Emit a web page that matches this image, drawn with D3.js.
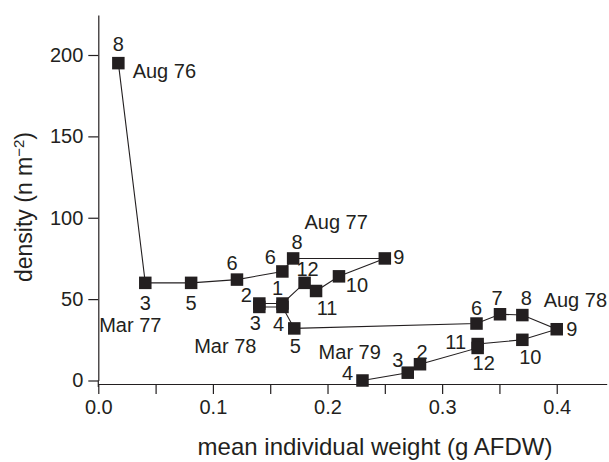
<!DOCTYPE html>
<html lang="en">
<head>
<meta charset="UTF-8">
<title>density vs mean individual weight</title>
<script src="https://d3js.org/d3.v7.min.js"></script>
<style>
    body { margin: 0; background: #fff; }
    svg text { font-family: "Liberation Sans", Arial, Helvetica, sans-serif; fill: #231f20; }
    .axis path, .axis line { stroke: #231f20; stroke-width: 1.2; }
    .axis text { font-size: 20px; }
</style>
</head>
<body>
<div id="chart"></div>
<script>
    // sampling sequence, Aug 76 -> Apr 79
    const months  = ["8", "3", "5", "6", "6", "8", "9", "10", "11", "12", "1", "2", "3", "4", "5",
                     "6", "7", "8", "9", "10", "11", "12", "2", "3", "4"];
    const weights = [0.0175, 0.041, 0.081, 0.121, 0.1606, 0.170, 0.250, 0.210, 0.190, 0.180, 0.1607, 0.1405, 0.1405, 0.1607, 0.171,
                     0.330, 0.3505, 0.370, 0.400, 0.370, 0.331, 0.331, 0.2807, 0.270, 0.2305];
    const density = [195, 60, 60, 62, 67, 75, 75, 64, 55, 60, 47.3, 47.3, 45.2, 45.2, 32,
                     35, 40.7, 40.2, 31.5, 25, 22.4, 20, 10, 4.8, 0];
    const dateLabels = ["Aug 76", "Mar 77", "Aug 77", "Mar 78", "Aug 78", "Mar 79"];
    const datePoints = [0, 1, 5, 12, 17, 23];
    const xTicks = [0, 0.05, 0.1, 0.15, 0.2, 0.25, 0.3, 0.35, 0.4];
    const yTicks = [0, 50, 100, 150, 200];

    // label placement (px from marker centre)
    const monthOffsets = [[0, -19], [0, 20], [0, 20], [-5, -17], [-12, -14], [4, -16], [14, -1], [18, 9], [11, 17], [3, -14],
                          [-5, -16], [-13, -9], [-4, 16], [-4, 17], [1, 18],
                          [0, -16], [-3, -16], [4, -17], [15, 0], [8, 17], [-22, -2], [6, 15], [2, -12], [-10, -13], [-15, -8]];
    const dateOffsets = [[46, 8], [-15, 42], [43, -36], [-34, 39], [53, -15], [-58, -21]];

    const W = 609, H = 462;
    const x = d3.scaleLinear().domain([0, 0.4436]).range([98.3, 606.7]);
    const y = d3.scaleLinear().domain([0, 200]).range([380.5, 55]);
    const xAxisY = 384;

    const svg = d3.select("#chart").append("svg")
        .attr("width", W).attr("height", H);

    // axes
    svg.append("g")
        .attr("class", "axis")
        .attr("transform", `translate(0,${xAxisY})`)
        .call(d3.axisBottom(x).tickValues(xTicks).tickSize(10).tickSizeOuter(0).tickPadding(6)
            .tickFormat(d => Math.round(d * 100) % 10 === 0 ? d3.format(".1f")(d) : ""));

    const yAx = svg.append("g")
        .attr("class", "axis")
        .attr("transform", `translate(${x(0)},0)`)
        .call(d3.axisLeft(y.copy().domain([0, y.invert(15)]).range([380.5, 15]))
            .tickValues(yTicks).tickSize(10).tickSizeOuter(0).tickPadding(5));
    yAx.append("line")
        .attr("x1", 0).attr("x2", 0)
        .attr("y1", y(0)).attr("y2", xAxisY + 3);

    svg.selectAll(".axis .domain").attr("fill", "none");

    // axis titles
    svg.append("text")
        .attr("x", 375).attr("y", 455)
        .attr("text-anchor", "middle")
        .style("font-size", "24px")
        .text("mean individual weight (g AFDW)");

    const yt = svg.append("text")
        .attr("transform", "translate(32,207) rotate(-90)")
        .attr("text-anchor", "middle")
        .style("font-size", "23px");
    yt.append("tspan").text("density (n m");
    yt.append("tspan").attr("dy", -8).style("font-size", "15px").text("\u22122");
    yt.append("tspan").attr("dy", 8).text(")");

    // trajectory
    const pts = weights.map((w, i) => [x(w), y(density[i])]);
    svg.append("path")
        .attr("d", d3.line()(pts))
        .attr("fill", "none")
        .attr("stroke", "#231f20")
        .attr("stroke-width", 1.1);

    const s = 12.5;
    svg.selectAll("rect.pt")
        .data(pts)
        .enter().append("rect")
        .attr("class", "pt")
        .attr("x", d => d[0] - s / 2)
        .attr("y", d => d[1] - s / 2)
        .attr("width", s).attr("height", s)
        .attr("fill", "#231f20");

    // month numbers
    svg.selectAll("text.month")
        .data(months)
        .enter().append("text")
        .attr("class", "month")
        .attr("x", (d, i) => pts[i][0] + monthOffsets[i][0])
        .attr("y", (d, i) => pts[i][1] + monthOffsets[i][1])
        .attr("text-anchor", "middle")
        .attr("dominant-baseline", "central")
        .style("font-size", "20px")
        .text(d => d);

    // date labels
    svg.selectAll("text.date")
        .data(dateLabels)
        .enter().append("text")
        .attr("class", "date")
        .attr("x", (d, i) => pts[datePoints[i]][0] + dateOffsets[i][0])
        .attr("y", (d, i) => pts[datePoints[i]][1] + dateOffsets[i][1])
        .attr("text-anchor", "middle")
        .attr("dominant-baseline", "central")
        .style("font-size", "20px")
        .text(d => d);
</script>
</body>
</html>
